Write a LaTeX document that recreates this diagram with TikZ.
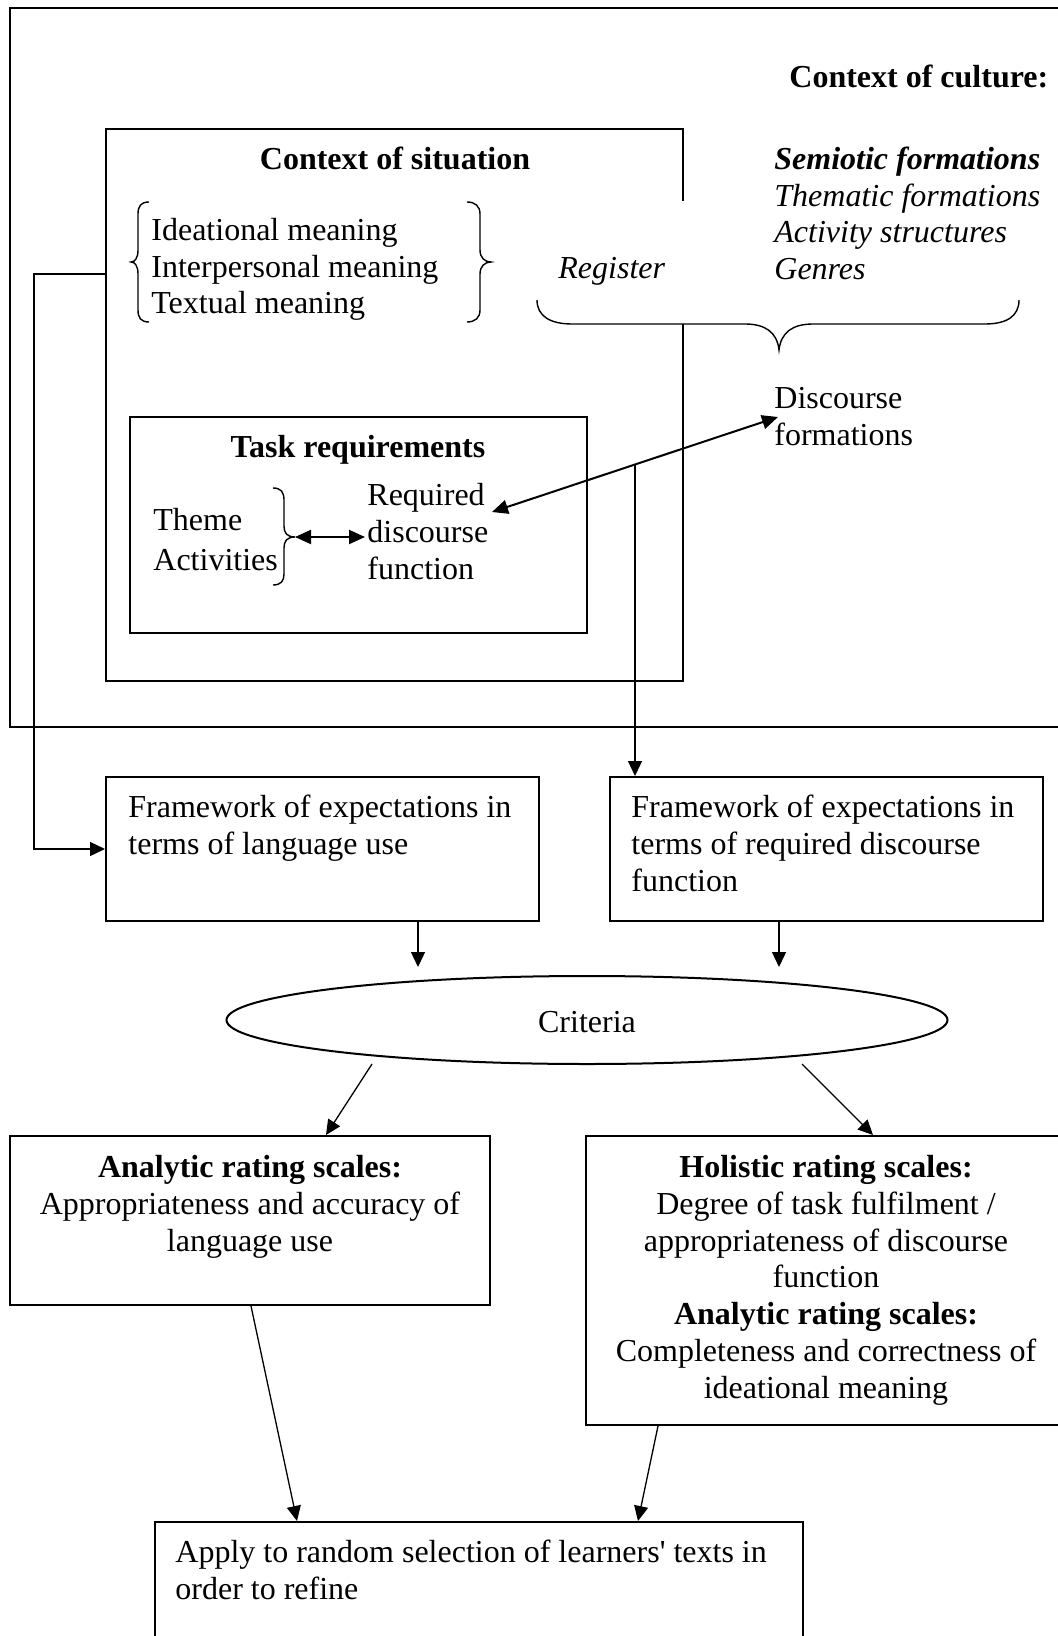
\documentclass[tikz,border=0pt]{standalone}
\usepackage{fontspec}
\setmainfont{Liberation Serif}
\usetikzlibrary{arrows.meta,shapes.geometric,fit,calc}

% first-line strut: puts the top of a text node 28 units above its first baseline
\newcommand\ts{\rule{0pt}{14pt}}

\begin{document}
\begin{tikzpicture}[x=0.5pt,y=-0.5pt,
  every node/.style={font=\fontsize{16}{18.4}\selectfont, inner sep=0pt},
  frame/.style={draw, line width=1pt, inner sep=0pt},
  area/.style={inner sep=0pt},
  boxline/.style={line width=1pt},
  txt/.style={anchor=north west, align=left},
  ctxt/.style={anchor=north, align=center},
  link/.style={line width=0.65pt, -{Triangle[length=7.5pt,width=7pt]}},
  twoway/.style={line width=1pt, {Triangle[length=8pt,width=7pt]}-{Triangle[length=8pt,width=7pt]}},
  bracket/.style={line width=0.7pt}]

\useasboundingbox (0,0) rectangle (1058,1636);
\fill[white] (0,0) rectangle (1058,1636);
\clip (0,0) rectangle (1058,1636);

% ---------- context of culture ----------
\node[frame, fit={(10,8) (1080,727)}] (culture) {};
\node[txt] (culttitle) at (789,59) {\ts\textbf{Context of culture:}};
\node[txt] (formations) at (774,141)
  {\ts\textbf{\textit{Semiotic formations}}\\\textit{Thematic formations}\\\textit{Activity structures}\\\textit{Genres}};
\node[txt] (register) at (558,250) {\ts\textit{Register}};
\node[txt] (discform) at (774,380) {\ts Discourse\\formations};

% ---------- context of situation (right side open behind the brace) ----------
\node[area, fit={(106,129) (683,681)}] (situation) {};
\coordinate (gapT) at (683,201);
\coordinate (gapB) at (683,324);
\draw[boxline] (situation.east |- gapT) -- (situation.north east) -- (situation.north west)
  -- (situation.south west) -- (situation.south east) -- (situation.east |- gapB);
\node[ctxt] (sittitle) at (395,141) {\ts\textbf{Context of situation}};
\node[txt] (meanings) at (151,212) {\ts Ideational meaning\\Interpersonal meaning\\Textual meaning};

% braces round the three meanings
\draw[bracket] (149,202) .. controls (141,202) and (138,206) .. (138,214) -- (138,250)
  .. controls (138,258) and (135,262) .. (131,262)
  .. controls (135,262) and (138,266) .. (138,274) -- (138,310)
  .. controls (138,318) and (141,322) .. (149,322);
\draw[bracket] (467,202) .. controls (475,202) and (480,206) .. (480,214) -- (480,250)
  .. controls (480,258) and (485,262) .. (491,262)
  .. controls (485,262) and (480,266) .. (480,274) -- (480,310)
  .. controls (480,318) and (475,322) .. (467,322);

% under-brace gathering register and the formations
\draw[bracket] (537,300) .. controls (537,316) and (550,324) .. (572,324) -- (745,324)
  .. controls (765,324) and (777,332) .. (779,350)
  .. controls (781,332) and (793,324) .. (813,324) -- (985,324)
  .. controls (1007,324) and (1019,316) .. (1019,300);

% ---------- task requirements ----------
\node[frame, fit={(130,417) (587,633)}] (task) {};
\node[ctxt] (tasktitle) at (358,429) {\ts\textbf{Task requirements}};
\node[txt] (themeact) at (153,502) {\ts Theme\\[1.6pt]Activities};
\node[txt] (reqdf) at (367,477) {\ts Required\\discourse\\function};
\draw[bracket] (273,488) .. controls (281,488) and (284,492) .. (284,500) -- (284,526)
  .. controls (284,533) and (287,537) .. (295,537)
  .. controls (287,537) and (284,541) .. (284,548) -- (284,574)
  .. controls (284,581) and (281,585) .. (273,585);
\coordinate (tbtip) at (295,537);
\draw[twoway] (tbtip) -- ([xshift=-1pt]reqdf.west |- tbtip);

% ---------- frameworks ----------
\node[frame, fit={(106,777) (539,921)}] (fwlang) {};
\node[txt] (fwlangtext) at (128,789) {\ts Framework of expectations in\\terms of language use};
\node[frame, fit={(610,777) (1043,921)}] (fwdisc) {};
\node[txt] (fwdisctext) at (631,789) {\ts Framework of expectations in\\terms of required discourse\\function};

% ---------- criteria ----------
\node[draw, line width=1pt, ellipse, minimum width=360.5pt, minimum height=44pt] (criteria) at (587,1020) {};
\node[anchor=base] (crittext) at (587,1032) {Criteria};
\coordinate (critTop) at ([yshift=4pt]criteria.north);

% ---------- rating scales ----------
\node[frame, fit={(10,1136) (490,1305)}] (analytic) {};
\node[ctxt] (analytictext) at (250,1149)
  {\ts\textbf{Analytic rating scales:}\\Appropriateness and accuracy of\\language use};
\node[frame, fit={(586,1136) (1080,1425)}] (holistic) {};
\node[ctxt] (holistictext) at (826,1149)
  {\ts\textbf{Holistic rating scales:}\\Degree of task fulfilment /\\appropriateness of discourse\\function\\\textbf{Analytic rating scales:}\\Completeness and correctness of\\ideational meaning};

% ---------- application ----------
\node[frame, fit={(155,1522) (803,1660)}] (apply) {};
\node[txt] (applytext) at (175,1534) {\ts Apply to random selection of learners\textquotesingle{} texts in\\order to refine};

% ---------- connectors ----------
\coordinate (fbcorner) at (34,274);
\draw[link] (situation.west |- fbcorner) -- (fbcorner) |- (fwlang.west);

\coordinate (dfL) at (492,512);
\coordinate (dfR) at (778,417);
\draw[twoway] (dfL) -- coordinate[pos=0.5] (dfmid) (dfR);
\draw[link] (dfmid) -- (dfmid |- fwdisc.north);

\coordinate (xl) at (418,0);
\coordinate (xr) at (779,0);
\draw[link] (fwlang.south -| xl) -- (critTop -| xl);
\draw[link] (fwdisc.south -| xr) -- (critTop -| xr);

\coordinate (cAs) at (372,1064);
\coordinate (cHs) at (802,1064);
\coordinate (xa) at (326,0);
\coordinate (xh) at (873,0);
\draw[link] (cAs) -- (analytic.north -| xa);
\draw[link] (cHs) -- (holistic.north -| xh);

\coordinate (xa2) at (251,0);
\coordinate (xa3) at (297,0);
\coordinate (xh2) at (658,0);
\coordinate (xh3) at (638,0);
\draw[link] (analytic.south -| xa2) -- (apply.north -| xa3);
\draw[link] (holistic.south -| xh2) -- (apply.north -| xh3);

\end{tikzpicture}
\end{document}
